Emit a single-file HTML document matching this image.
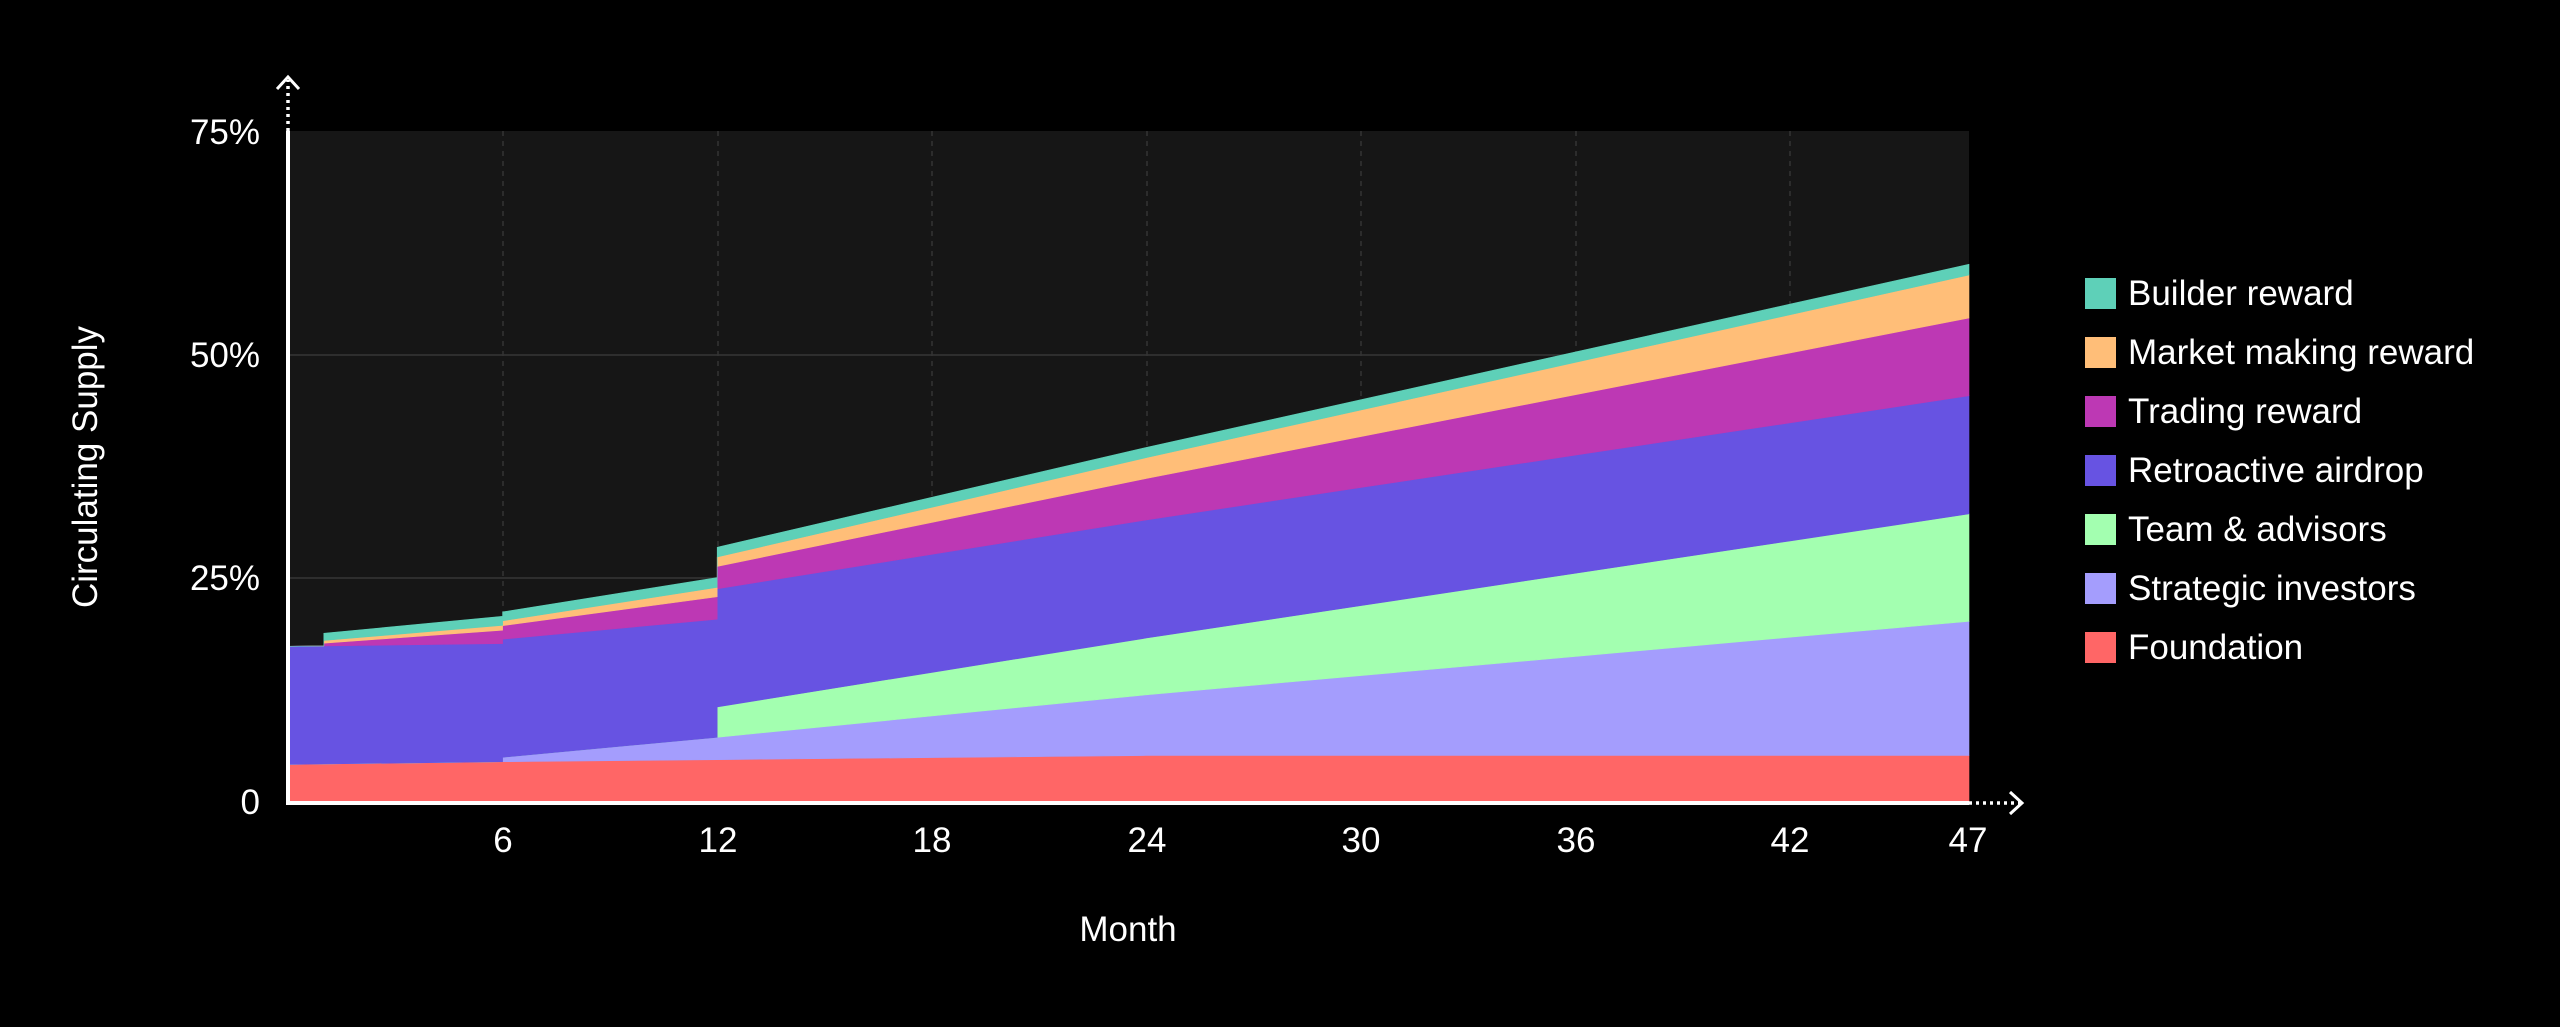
<!DOCTYPE html>
<html><head><meta charset="utf-8">
<style>
html,body{margin:0;padding:0;background:#000;}
svg{display:block;}
text{font-family:"Liberation Sans",sans-serif;fill:#fff;}
</style></head>
<body>
<svg id="c" width="2560" height="1027" viewBox="0 0 2560 1027" xmlns="http://www.w3.org/2000/svg">
<rect width="2560" height="1027" fill="#000"/>
<rect x="288" y="131" width="1681" height="671" fill="#161616"/>
<g stroke="#363636" stroke-width="1.5">
<line x1="288" y1="578" x2="1969" y2="578"/>
<line x1="288" y1="355" x2="1969" y2="355"/>
</g>
<g stroke="#333" stroke-width="1.5" stroke-dasharray="5,5">
<line x1="503" y1="131" x2="503" y2="802"/>
<line x1="718" y1="131" x2="718" y2="802"/>
<line x1="932" y1="131" x2="932" y2="802"/>
<line x1="1147" y1="131" x2="1147" y2="802"/>
<line x1="1361" y1="131" x2="1361" y2="802"/>
<line x1="1576" y1="131" x2="1576" y2="802"/>
<line x1="1790" y1="131" x2="1790" y2="802"/>
</g>
<g id="areas"></g>
<g stroke="#fff" stroke-width="4" fill="none">
<line x1="288" y1="131" x2="288" y2="804"/>
<line x1="286" y1="803" x2="1969" y2="803"/>
<line x1="288" y1="131" x2="288" y2="80" stroke-dasharray="3,4" stroke-width="3.5"/>
<polyline points="277,89 288,77 299,89" stroke-width="3"/>
<line x1="1969" y1="803" x2="2020" y2="803" stroke-dasharray="3,4" stroke-width="3.5"/>
<polyline points="2010,792 2022,803 2010,814" stroke-width="3"/>
</g>
<g font-size="35" text-anchor="end">
<text x="260" y="144">75%</text>
<text x="260" y="367">50%</text>
<text x="260" y="590">25%</text>
<text x="260" y="814">0</text>
</g>
<g font-size="35" text-anchor="middle">
<text x="503" y="852">6</text>
<text x="718" y="852">12</text>
<text x="932" y="852">18</text>
<text x="1147" y="852">24</text>
<text x="1361" y="852">30</text>
<text x="1576" y="852">36</text>
<text x="1790" y="852">42</text>
<text x="1968" y="852">47</text>
<text x="1128" y="941">Month</text>
<text x="0" y="0" transform="translate(97,467) rotate(-90)">Circulating Supply</text>
</g>
<g font-size="35">
<rect x="2085" y="278" width="31" height="31" fill="#5ed0b8"/><text x="2128" y="305">Builder reward</text>
<rect x="2085" y="337" width="31" height="31" fill="#ffbe78"/><text x="2128" y="364">Market making reward</text>
<rect x="2085" y="396" width="31" height="31" fill="#bd38b4"/><text x="2128" y="423">Trading reward</text>
<rect x="2085" y="455" width="31" height="31" fill="#6753e2"/><text x="2128" y="482">Retroactive airdrop</text>
<rect x="2085" y="514" width="31" height="31" fill="#a3ffb0"/><text x="2128" y="541">Team &amp; advisors</text>
<rect x="2085" y="573" width="31" height="31" fill="#a49dfd"/><text x="2128" y="600">Strategic investors</text>
<rect x="2085" y="632" width="31" height="31" fill="#ff6666"/><text x="2128" y="659">Foundation</text>
</g>
</svg>
<script>
(function(){
var X0=288,PX=(1969-288)/47,Y0=802,PY=8.947;
// sample points: [month, side] side: -1 left, +1 right, 0 normal
var pts=[[0,0],[1,-1],[1,1],[6,-1],[6,1],[12,-1],[12,1],[18,0],[24,0],[30,0],[36,0],[42,0],[47,0]];
function F(m,s){ if(m<6||(m==6&&s<0)) return 4.2+m*0.05; if(m<24) return 4.5+(m-6)/18*0.7; return 5.2;}
function SI(m,s){ if(m<6||(m==6&&s<0)) return 0; if(m<12||(m==12&&s<0)) return 0.5+(m-6)/6*2.0; return 2.5+(m-12)*(15-2.5)/35;}
function TM(m,s){ if(m<12||(m==12&&s<0)) return 0; return 3.4+(m-12)*(12-3.4)/35;}
function AD(m,s){ return 13.2;}
function rew(m,s){ return !(m<1||(m==1&&s<0)); }
function TR(m,s){ if(!rew(m,s)) return 0; if(m<=6) return 0.3+(m-1)*0.24; if(m<=12) return 1.5+(m-6)/6*1.0; return 2.5+(m-12)*(8.7-2.5)/35;}
function MM(m,s){ if(!rew(m,s)) return 0; if(m<=6) return 0.3+(m-1)*0.05; if(m<=12) return 0.55+(m-6)/6*0.5; return 1.05+(m-12)*(4.8-1.05)/35;}
function BR(m,s){ if(!rew(m,s)) return 0; if(m<=6) return 0.8+(m-1)*0.04; if(m<=12) return 1.05+(m-6)/6*0.05; return 1.1+(m-12)*0.1/35;}
var layers=[[F,"#ff6666"],[SI,"#a49dfd"],[TM,"#a3ffb0"],[AD,"#6753e2"],[TR,"#bd38b4"],[MM,"#ffbe78"],[BR,"#5ed0b8"]];
var base=pts.map(function(){return 0;});
var g=document.getElementById("areas"),ns="http://www.w3.org/2000/svg";
layers.forEach(function(L){
  var top=pts.map(function(p,i){return base[i]+L[0](p[0],p[1]);});
  var s=[];
  for(var i=0;i<pts.length;i++) s.push((X0+pts[i][0]*PX).toFixed(1)+","+(Y0-top[i]*PY).toFixed(1));
  for(var i=pts.length-1;i>=0;i--) s.push((X0+pts[i][0]*PX).toFixed(1)+","+(Y0-base[i]*PY).toFixed(1));
  var el=document.createElementNS(ns,"polygon");
  el.setAttribute("points",s.join(" "));el.setAttribute("fill",L[1]);
  el.setAttribute("stroke",L[1]);el.setAttribute("stroke-width","0.6");
  g.appendChild(el);
  base=top;
});
})();
</script>
</body></html>
